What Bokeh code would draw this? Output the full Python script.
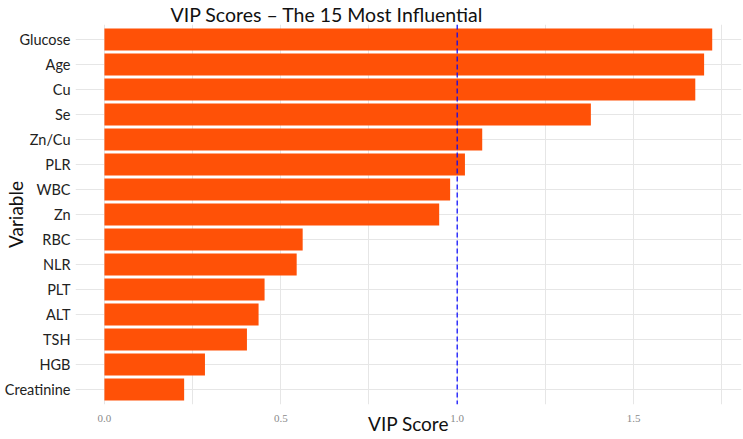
from bokeh.plotting import figure
from bokeh.models import Range1d, FixedTicker, Span
from bokeh.embed import file_html
from bokeh.resources import INLINE

variables = ["Glucose", "Age", "Cu", "Se", "Zn/Cu", "PLR", "WBC", "Zn",
             "RBC", "NLR", "PLT", "ALT", "TSH", "HGB", "Creatinine"]
vip = [1.723, 1.700, 1.675, 1.379, 1.071, 1.022, 0.980, 0.949,
       0.562, 0.545, 0.454, 0.437, 0.404, 0.285, 0.226]
x_ticks = [0.0, 0.5, 1.0, 1.5]
x_minor = [0.25, 0.75, 1.25, 1.75]
threshold = 1.0
title_text = "VIP Scores \u2013 The 15 Most Influential"

n = len(variables)
ypos = [n - 1 - i for i in range(n)]

FONT = "Lato"

p = figure(width=743, height=439, output_backend="svg", toolbar_location=None,
           x_range=Range1d(-0.082, 1.806), y_range=Range1d(-0.6, n - 1 + 0.6),
           min_border_left=72, min_border_right=2, min_border_top=24,
           min_border_bottom=35, title=title_text)
p.outline_line_color = None
p.background_fill_color = "white"
p.border_fill_color = "white"

p.title.text_font = FONT
p.title.text_font_size = "19.5px"
p.title.text_font_style = "normal"
p.title.text_color = "#111111"
p.title.align = "left"
p.title.offset = 95
p.title.standoff = -6
p.title.vertical_align = "top"

p.hbar(y=ypos, right=vip, left=0, height=0.88, fill_color="#FF5107",
       line_color=None)

p.add_layout(Span(location=threshold, dimension="height", line_color="blue",
                  line_dash="5 3", line_width=1.2))

# axes
p.xaxis.ticker = FixedTicker(ticks=x_ticks, minor_ticks=x_minor)
p.xaxis.major_label_overrides = {t: f"{t:.1f}" for t in x_ticks}
p.yaxis.ticker = FixedTicker(ticks=ypos)
p.yaxis.major_label_overrides = {y: v for y, v in zip(ypos, variables)}
for ax in (p.xaxis[0], p.yaxis[0]):
    ax.axis_line_color = None
    ax.major_tick_line_color = None
    ax.minor_tick_line_color = None
    ax.major_tick_out = 0
    ax.major_tick_in = 0
    ax.minor_tick_out = 0
    ax.minor_tick_in = 0
    ax.axis_label_text_font = FONT
    ax.axis_label_text_font_size = "19px"
    ax.axis_label_text_font_style = "normal"
    ax.axis_label_text_color = "#111111"
p.xaxis.major_label_text_font = "Liberation Sans Narrow"
p.xaxis.major_label_text_font_size = "11px"
p.xaxis.major_label_text_color = "#8a8a8a"
p.xaxis.major_label_standoff = 10
p.xaxis.axis_label = "VIP Score"
p.xaxis.axis_label_standoff = -13
p.yaxis.major_label_text_font = FONT
p.yaxis.major_label_text_font_size = "14.5px"
p.yaxis.major_label_text_color = "#222222"
p.yaxis.major_label_standoff = 5
p.yaxis.axis_label = "Variable"
p.yaxis.axis_label_standoff = -25

# grids
p.xgrid.grid_line_color = "#e6e6e6"
p.xgrid.minor_grid_line_color = "#e6e6e6"
p.xgrid.grid_line_width = 1
p.ygrid.grid_line_color = "#e6e6e6"
p.ygrid.grid_line_width = 1

open("out.html", "w").write(file_html(p, INLINE))
